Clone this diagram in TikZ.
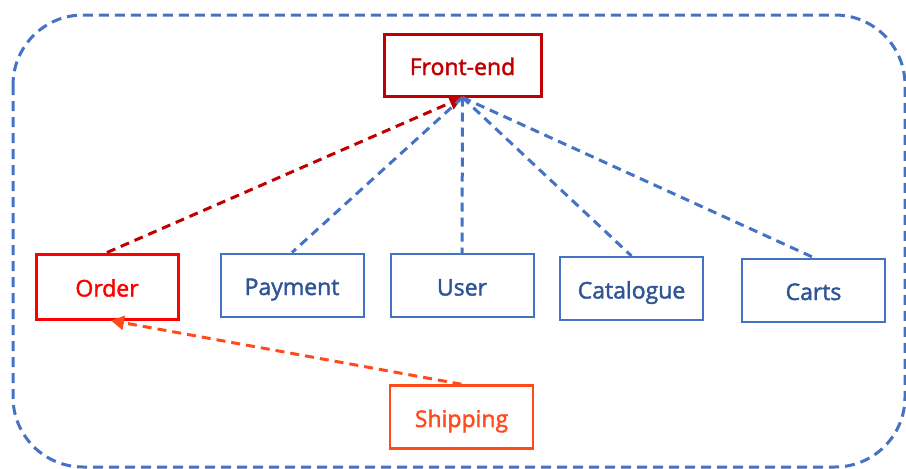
\documentclass[tikz,border=0pt]{standalone}
\usepackage{fontspec}
\setmainfont{Open Sans}[BoldFont=Open Sans, BoldFeatures={FakeBold=1.8}]
\usetikzlibrary{arrows.meta}
\definecolor{bline}{HTML}{4472C4}
\definecolor{btext}{HTML}{2F5597}
\definecolor{dred}{HTML}{C00000}
\definecolor{bred}{HTML}{FF0000}
\definecolor{oran}{HTML}{FF4A1C}
\tikzset{
  svc/.style={draw, line width=2pt, minimum width=143pt, minimum height=63pt,
    inner sep=0pt, text height=22pt, text depth=2pt,
    font=\fontsize{23}{27}\selectfont\bfseries},
  bluebox/.style={svc, draw=bline, text=btext},
  link/.style={line width=3pt, dash pattern=on 9pt off 6pt},
  tip/.style={-{Triangle[length=13pt,width=14pt]}}
}
\begin{document}
\begin{tikzpicture}[x=1pt,y=-1pt]
\useasboundingbox (0,0) rectangle (906,469);
% outer dashed boundary
\draw[bline, line width=3pt, dash pattern=on 10pt off 6pt, rounded corners=70pt]
  (13,15) rectangle (905,467);
% services
\node[svc, draw=dred, text=dred, line width=3pt, minimum width=157pt, minimum height=62pt] (fe) at (462.5,65) {Front-end};
\node[svc, draw=bred, text=bred, line width=3pt, minimum width=142pt, minimum height=65pt] (ord) at (107,286.5) {Order};
\node[bluebox] (pay) at (292,285) {Payment};
\node[bluebox] (usr) at (462,285.5) {User};
\node[bluebox] (cat) at (631.5,288.5) {Catalogue};
\node[bluebox] (crt) at (813.5,290) {Carts};
\node[svc, draw=oran, text=oran, line width=2.5pt] (shp) at (461.5,417) {Shipping};
% connectors
\draw[link, dred, tip] (ord.north) -- (fe.south);
\draw[link, bline] (fe.south) -- (pay.north);
\draw[link, bline] (fe.south) -- (usr.north);
\draw[link, bline] (fe.south) -- (cat.north);
\draw[link, bline] (fe.south) -- (crt.north);
\draw[link, oran, tip] (shp.north) -- ([xshift=4pt]ord.south);
\end{tikzpicture}
\end{document}
